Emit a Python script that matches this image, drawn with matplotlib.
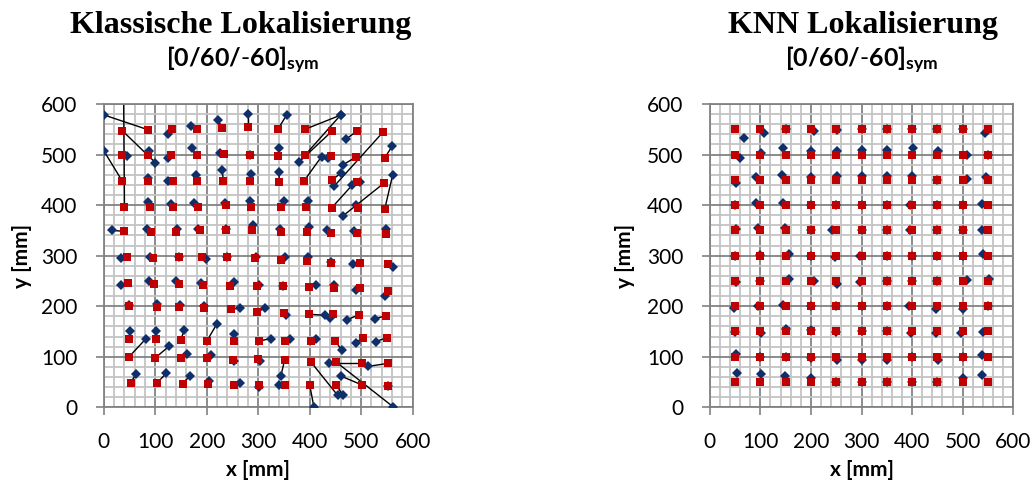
import matplotlib.pyplot as plt
from matplotlib.ticker import MultipleLocator

# --- Klassische Lokalisierung: rows from y~550 down to y~50, 11 points each ---
kl_red_x = [36, 86, 132, 180, 230, 281, 338, 391, 443, 491, 543,
            36, 86, 131, 180, 233, 283, 338, 391, 441, 490, 546,
            36, 86, 134, 180, 232, 283, 340, 389, 443, 492, 545,
            40, 90, 134, 183, 237, 286, 344, 393, 443, 493, 546,
            40, 91, 140, 187, 238, 288, 345, 395, 442, 492, 548,
            44, 96, 145, 191, 240, 294, 345, 395, 441, 498, 553,
            46, 98, 145, 193, 245, 297, 349, 399, 447, 498, 553,
            48, 103, 145, 195, 247, 297, 350, 399, 446, 496, 548,
            48, 101, 149, 200, 252, 302, 352, 402, 450, 503, 551,
            49, 100, 149, 201, 250, 300, 351, 402, 452, 502, 553,
            52, 104, 153, 203, 252, 301, 351, 400, 452, 502, 553]
kl_red_y = [547, 549, 550, 550, 552, 555, 550, 550, 546, 546, 545,
            499, 499, 499, 499, 501, 499, 497, 499, 497, 495, 494,
            447, 447, 447, 447, 448, 447, 445, 448, 449, 446, 444,
            397, 397, 397, 397, 400, 397, 397, 397, 395, 395, 393,
            348, 346, 346, 350, 350, 350, 346, 346, 345, 345, 342,
            297, 296, 297, 298, 297, 296, 292, 289, 286, 286, 284,
            246, 244, 244, 242, 240, 240, 239, 237, 235, 235, 230,
            200, 198, 198, 197, 194, 189, 187, 184, 185, 183, 181,
            135, 136, 133, 131, 131, 131, 131, 131, 131, 138, 138,
            100, 98, 97, 97, 94, 95, 93, 90, 89, 88, 87,
            49, 49, 47, 47, 45, 45, 45, 44, 44, 44, 42]
kl_blue_x = [100, 1, 125, 169, 222, 281, 355, 460, 380, 470, 448,
             44, 88, 125, 172, 226, 283, 341, 460, 436, 465, 560,
             0, 86, 125, 179, 230, 286, 341, 423, 461, 498, 465,
             38, 86, 130, 176, 235, 283, 350, 396, 483, 490, 561,
             15, 84, 143, 182, 238, 290, 342, 399, 434, 487, 549,
             33, 90, 145, 198, 240, 296, 352, 397, 441, 485, 562,
             33, 88, 141, 189, 253, 302, 349, 412, 447, 489, 546,
             48, 103, 147, 195, 264, 314, 354, 430, 439, 472, 526,
             51, 101, 156, 219, 253, 324, 362, 413, 462, 490, 528,
             82, 127, 161, 209, 253, 303, 344, 454, 562, 437, 514,
             62, 121, 167, 205, 264, 301, 340, 408, 464, 460, 553]
kl_blue_y = [484, 578, 540, 557, 568, 580, 578, 578, 486, 530, 438,
             497, 507, 493, 512, 503, 500, 512, 578, 493, 480, 516,
             507, 453, 448, 460, 470, 461, 466, 496, 464, 446, 379,
             650, 407, 403, 404, 405, 409, 409, 408, 440, 401, 459,
             350, 353, 353, 353, 353, 361, 353, 356, 350, 348, 352,
             295, 297, 298, 294, 298, 298, 297, 297, 287, 284, 277,
             241, 250, 249, 246, 248, 242, 240, 241, 241, 233, 221,
             203, 205, 202, 200, 196, 196, 182, 182, 177, 173, 175,
             150, 150, 152, 164, 145, 136, 136, 135, 113, 128, 130,
             136, 121, 106, 103, 91, 92, 62, 24, 1, 88, 81,
             65, 67, 62, 52, 48, 41, 44, 1, 24, 62, 42]

# --- KNN Lokalisierung ---
knn_grid = [50, 100, 150, 200, 250, 300, 350, 400, 450, 500, 550]
knn_red_x = knn_grid * 11
knn_red_y = [y for y in knn_grid[::-1] for _ in range(11)]
knn_blue_x = [68, 108, 150, 207, 252, 300, 350, 400, 450, 500, 545,
              60, 101, 144, 201, 251, 300, 350, 401, 452, 508, 550,
              52, 91, 142, 200, 251, 300, 350, 400, 450, 508, 547,
              50, 91, 144, 200, 250, 300, 350, 396, 450, 500, 539,
              52, 95, 149, 200, 242, 300, 350, 396, 450, 500, 539,
              50, 100, 157, 200, 248, 297, 350, 400, 450, 500, 541,
              52, 100, 157, 206, 251, 297, 350, 400, 450, 508, 551,
              47, 96, 145, 200, 250, 300, 350, 394, 447, 501, 550,
              50, 101, 151, 201, 249, 300, 350, 398, 447, 497, 541,
              52, 100, 150, 201, 251, 300, 350, 400, 451, 500, 539,
              54, 101, 149, 201, 250, 300, 350, 400, 450, 501, 539]
knn_blue_y = [532, 542, 550, 547, 548, 550, 550, 550, 550, 550, 542,
              493, 504, 512, 507, 507, 509, 509, 512, 507, 499, 500,
              444, 455, 459, 456, 458, 457, 457, 457, 450, 451, 456,
              400, 404, 405, 400, 400, 400, 400, 400, 400, 400, 402,
              352, 354, 354, 350, 350, 350, 350, 350, 350, 350, 350,
              300, 302, 304, 300, 297, 300, 300, 300, 300, 300, 304,
              248, 250, 254, 249, 244, 248, 250, 250, 250, 251, 254,
              196, 200, 203, 200, 200, 200, 200, 200, 194, 194, 200,
              148, 146, 154, 152, 148, 150, 150, 146, 146, 146, 148,
              106, 100, 100, 97, 93, 93, 93, 100, 93, 100, 104,
              68, 66, 62, 58, 50, 50, 50, 50, 50, 57, 64]

ticks = [0, 100, 200, 300, 400, 500, 600]

plt.rcParams['font.family'] = 'Lato'
plt.rcParams['mathtext.fontset'] = 'custom'
plt.rcParams['mathtext.rm'] = 'Lato'
plt.rcParams['mathtext.bf'] = 'Lato:bold'

BLUE = '#0f2f6b'
RED = '#c00000'
MAJ = '#828282'
MIN = '#c4c4c4'

fig = plt.figure(figsize=(10.36, 4.88), dpi=100)
ax1 = fig.add_axes([0.1003, 0.1654, 0.298, 0.6215])
ax2 = fig.add_axes([0.6851, 0.1654, 0.293, 0.6215])


def style(ax):
    ax.set_xlim(0, 600)
    ax.set_ylim(0, 600)
    ax.set_xticks(ticks)
    ax.set_yticks(ticks)
    ax.xaxis.set_minor_locator(MultipleLocator(20))
    ax.yaxis.set_minor_locator(MultipleLocator(20))
    ax.grid(which='minor', color=MIN, lw=1.3, zorder=0)
    ax.grid(which='major', color=MAJ, lw=1.3, zorder=0)
    ax.set_axisbelow(True)
    ax.tick_params(which='major', direction='out', length=6, width=1.2,
                   color=MAJ, labelsize=15)
    ax.tick_params(axis='x', pad=11.5)
    ax.tick_params(axis='y', pad=13)
    ax.tick_params(which='minor', length=0)
    for s in ax.spines.values():
        s.set_color(MAJ)
        s.set_linewidth(1.3)


style(ax1)
style(ax2)

# error vectors for the classic localisation
for rx, ry, bx, by in zip(kl_red_x, kl_red_y, kl_blue_x, kl_blue_y):
    ax1.plot([rx, bx], [ry, by], color='black', lw=1, zorder=2)
ax1.plot(kl_blue_x, kl_blue_y, 'D', color=BLUE, ms=5.2, mew=0, zorder=3)
ax1.plot(kl_red_x, kl_red_y, 's', color=RED, ms=5.8, mew=0, zorder=4)

ax2.plot(knn_blue_x, knn_blue_y, 'D', color=BLUE, ms=5.2, mew=0, zorder=3)
ax2.plot(knn_red_x, knn_red_y, 's', color=RED, ms=5.8, mew=0, zorder=4)

# titles
fig.text(241 / 1036, 1 - 33 / 488, 'Klassische Lokalisierung', ha='center',
         va='baseline', fontsize=23, fontweight='bold', family='Liberation Serif')
fig.text(863 / 1036, 1 - 33 / 488, 'KNN Lokalisierung', ha='center',
         va='baseline', fontsize=23, fontweight='bold', family='Liberation Serif')
sub = r'$\mathbf{[0/60/\text{-}60]_{sym}}$'
fig.text(243 / 1036, 1 - 67 / 488, sub, ha='center', va='baseline', fontsize=18)
fig.text(862 / 1036, 1 - 67 / 488, sub, ha='center', va='baseline', fontsize=18)

# axis labels
fig.text(258 / 1036, 1 - 470 / 488, 'x [mm]', ha='center', va='center',
         fontsize=15, fontweight='bold')
fig.text(862 / 1036, 1 - 470 / 488, 'x [mm]', ha='center', va='center',
         fontsize=15, fontweight='bold')
fig.text(22 / 1036, 1 - 256 / 488, 'y [mm]', ha='center', va='center',
         rotation=90, fontsize=15, fontweight='bold')
fig.text(625 / 1036, 1 - 256 / 488, 'y [mm]', ha='center', va='center',
         rotation=90, fontsize=15, fontweight='bold')

plt.savefig('out.png', dpi=100)
plt.close()
